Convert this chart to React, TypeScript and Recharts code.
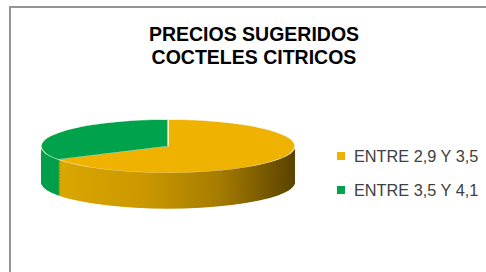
import React from "react";
import { PieChart, Pie, Cell } from "recharts";

const categories = ["ENTRE 2,9 Y 3,5", "ENTRE 3,5 Y 4,1"];
const values = [2, 1];
const topColors = ["#EFB200", "#00A24C"];
const sideGradients = ["sideYellow", "sideGreen"];
const titleLines = ["PRECIOS SUGERIDOS", "COCTELES CITRICOS"];

const data = categories.map((name, i) => ({ name, value: values[i] }));

// 3D projection parameters
const RX = 127;
const RY = 26.5;
const K = RY / RX;
const CX = 168;
const CY = 130;
const DEPTH = 36;
const LAYERS = 60;
const STEP = DEPTH / K / LAYERS;
const TOP_SCREEN = 146.5;
const OFFSET_TOP = TOP_SCREEN - K * CY;
const CHART_H = Math.ceil(CY + RX + DEPTH / K + 6);

const layerIdx = Array.from({ length: LAYERS }, (_, i) => LAYERS - i);

export default function App() {
  return (
    <div
      style={{
        position: "absolute",
        left: 0,
        top: 0,
        width: 486,
        height: 272,
        background: "#fff",
        overflow: "hidden",
        fontFamily: "'Liberation Sans', Arial, sans-serif",
      }}
    >
      <svg width={0} height={0} style={{ position: "absolute" }}>
        <defs>
          <linearGradient id="sideYellow" gradientUnits="userSpaceOnUse" x1={CX - RX} y1={0} x2={CX + RX} y2={0}>
            <stop offset="0%" stopColor="#DEAA00" />
            <stop offset="40%" stopColor="#CB9800" />
            <stop offset="70%" stopColor="#A67C00" />
            <stop offset="100%" stopColor="#5A4200" />
          </linearGradient>
          <linearGradient id="sideGreen" gradientUnits="userSpaceOnUse" x1={CX - RX} y1={0} x2={CX + RX} y2={0}>
            <stop offset="0%" stopColor="#00A04C" />
            <stop offset="40%" stopColor="#008C42" />
            <stop offset="100%" stopColor="#004A22" />
          </linearGradient>
        </defs>
      </svg>

      <div
        style={{
          position: "absolute",
          left: 9,
          top: 6,
          width: 520,
          height: 320,
          border: "2px solid #959595",
          boxSizing: "border-box",
        }}
      />

      <div
        style={{
          position: "absolute",
          left: 0,
          top: 22.5,
          width: 508,
          textAlign: "center",
          fontWeight: "bold",
          fontSize: 19.5,
          lineHeight: "23px",
          color: "#000",
        }}
      >
        {titleLines.map((t) => (
          <div key={t}>{t}</div>
        ))}
      </div>

      <div
        style={{
          position: "absolute",
          left: 0,
          top: OFFSET_TOP,
          width: 486,
          height: CHART_H,
          transform: `scaleY(${K})`,
          transformOrigin: "top left",
        }}
      >
        <PieChart width={486} height={CHART_H} margin={{ top: 0, right: 0, bottom: 0, left: 0 }}>
          {layerIdx.map((i) => (
            <Pie
              key={`layer-${i}`}
              data={data}
              dataKey="value"
              nameKey="name"
              cx={CX}
              cy={CY + i * STEP}
              outerRadius={RX}
              startAngle={90}
              endAngle={-270}
              stroke="none"
              isAnimationActive={false}
            >
              {data.map((d, j) => (
                <Cell key={d.name} fill={`url(#${sideGradients[j]})`} stroke="none" />
              ))}
            </Pie>
          ))}
          <Pie
            key="top"
            data={data}
            dataKey="value"
            nameKey="name"
            cx={CX}
            cy={CY}
            outerRadius={RX}
            startAngle={90}
            endAngle={-270}
            isAnimationActive={false}
          >
            {data.map((d, j) => (
              <Cell
                key={d.name}
                fill={topColors[j]}
                stroke="#FFF8DC"
                strokeWidth={1.2}
                vectorEffect="non-scaling-stroke"
              />
            ))}
          </Pie>
        </PieChart>
      </div>

      {categories.map((c, i) => (
        <div
          key={c}
          style={{
            position: "absolute",
            left: 337,
            top: 146.5 + i * 34,
            height: 18,
            display: "flex",
            alignItems: "center",
            whiteSpace: "nowrap",
          }}
        >
          <div style={{ width: 8, height: 8, background: topColors[i], marginRight: 9 }} />
          <span style={{ fontSize: 16.3, color: "#404040", lineHeight: "18px" }}>{c}</span>
        </div>
      ))}
    </div>
  );
}
